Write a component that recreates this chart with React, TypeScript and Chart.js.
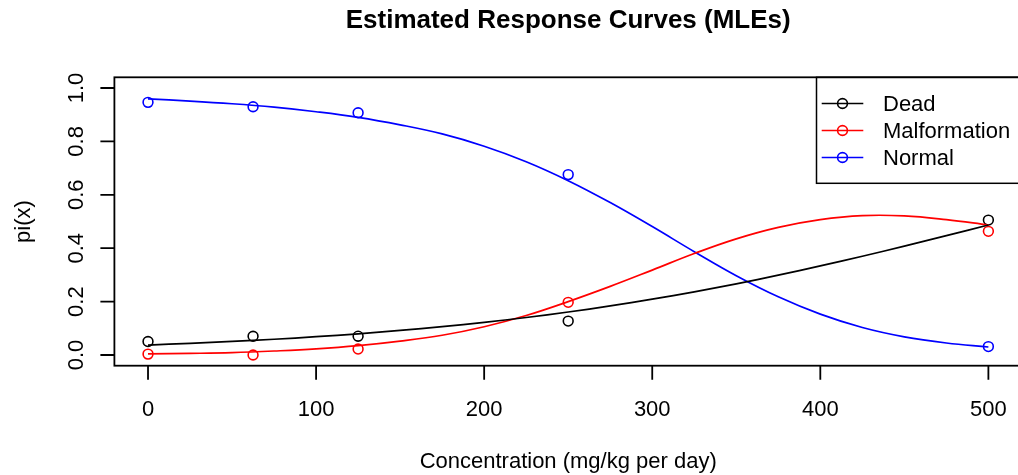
import { useEffect, useRef } from 'react';
import { Chart, registerables } from 'chart.js';

Chart.register(...registerables);

// Observed proportions
const doses = [0, 62.5, 125, 250, 500];
const obsDead = [0.0505, 0.0702, 0.0705, 0.1271, 0.5053];
const obsMalf = [0.0034, 0.0, 0.0224, 0.1973, 0.4632];
const obsNormal = [0.9461, 0.9298, 0.9071, 0.6756, 0.0316];

// Fitted curves
const curveX = [0, 25, 50, 75, 100, 125, 150, 175, 200, 225, 250, 275, 300, 325, 350, 375, 400, 425, 450, 475, 500];
const fitDead = [0.0374, 0.0436, 0.0508, 0.059, 0.0686, 0.0795, 0.092, 0.1062, 0.1224, 0.1406, 0.161, 0.1838, 0.209, 0.2366, 0.2667, 0.2991, 0.3336, 0.37, 0.4079, 0.447, 0.4868];
const fitMalf = [0.004, 0.006, 0.009, 0.015, 0.023, 0.035, 0.052, 0.074, 0.106, 0.148, 0.2, 0.257, 0.318, 0.38, 0.435, 0.478, 0.507, 0.522, 0.521, 0.507, 0.487];
const fitNormal = [0.959, 0.951, 0.941, 0.928, 0.911, 0.89, 0.862, 0.828, 0.782, 0.724, 0.653, 0.571, 0.481, 0.387, 0.297, 0.218, 0.153, 0.103, 0.068, 0.045, 0.03];

const xTicks = [0, 100, 200, 300, 400, 500];
const xTickLabels = ['0', '100', '200', '300', '400', '500'];
const yTicks = [0, 0.2, 0.4, 0.6, 0.8, 1.0];
const yTickLabels = ['0.0', '0.2', '0.4', '0.6', '0.8', '1.0'];

const seriesNames = ['Dead', 'Malformation', 'Normal'];
const seriesColors = ['#000000', '#FF0000', '#0000FF'];

const titleText = 'Estimated Response Curves (MLEs)';
const xTitle = 'Concentration (mg/kg per day)';
const yTitle = 'pi(x)';

const FONT = '"Liberation Sans", Arial, Helvetica, sans-serif';

export default function App() {
  const ref = useRef<HTMLCanvasElement | null>(null);

  useEffect(() => {
    document.body.style.margin = '0';
    const canvas = ref.current;
    if (!canvas) return;

    const fits = [fitDead, fitMalf, fitNormal];
    const obs = [obsDead, obsMalf, obsNormal];

    const datasets: any[] = [];
    fits.forEach((f, i) => {
      datasets.push({
        type: 'line',
        label: seriesNames[i] + ' fit',
        data: curveX.map((x, j) => ({ x, y: f[j] })),
        borderColor: seriesColors[i],
        borderWidth: 1.7,
        pointRadius: 0,
        tension: 0.4,
        fill: false,
      });
    });
    obs.forEach((o, i) => {
      datasets.push({
        type: 'scatter',
        label: seriesNames[i],
        data: doses.map((x, j) => ({ x, y: o[j] })),
        borderColor: seriesColors[i],
        backgroundColor: 'rgba(0,0,0,0)',
        borderWidth: 1.6,
        pointRadius: 4.9,
        pointStyle: 'circle',
        showLine: false,
      });
    });

    const decor = {
      id: 'rdecor',
      afterDraw(chart: any) {
        const ctx = chart.ctx as CanvasRenderingContext2D;
        const a = chart.chartArea;
        const xs = chart.scales.x;
        const ys = chart.scales.y;
        ctx.save();
        ctx.strokeStyle = '#000';
        ctx.fillStyle = '#000';
        ctx.lineWidth = 1.8;
        // box
        ctx.strokeRect(a.left, a.top, a.right - a.left, a.bottom - a.top);
        // ticks
        ctx.beginPath();
        xTicks.forEach((v) => {
          const px = xs.getPixelForValue(v);
          ctx.moveTo(px, a.bottom);
          ctx.lineTo(px, a.bottom + 14);
        });
        yTicks.forEach((v) => {
          const py = ys.getPixelForValue(v);
          ctx.moveTo(a.left, py);
          ctx.lineTo(a.left - 14, py);
        });
        ctx.stroke();
        // tick labels
        ctx.font = '22px ' + FONT;
        ctx.textAlign = 'center';
        ctx.textBaseline = 'alphabetic';
        xTicks.forEach((v, i) => {
          ctx.fillText(xTickLabels[i], xs.getPixelForValue(v), 415.7);
        });
        yTicks.forEach((v, i) => {
          ctx.save();
          ctx.translate(83, ys.getPixelForValue(v));
          ctx.rotate(-Math.PI / 2);
          ctx.fillText(yTickLabels[i], 0, 0);
          ctx.restore();
        });
        // axis titles
        const cx = (a.left + a.right) / 2;
        const cy = (a.top + a.bottom) / 2;
        ctx.fillText(xTitle, cx, 468.3);
        ctx.save();
        ctx.translate(30, cy);
        ctx.rotate(-Math.PI / 2);
        ctx.fillText(yTitle, 0, 0);
        ctx.restore();
        // main title
        ctx.font = 'bold 26px ' + FONT;
        ctx.fillText(titleText, cx, 27.8);
        // legend
        const lx = 816.5;
        const ly = a.top;
        const lb = 183.3;
        ctx.lineWidth = 1.5;
        ctx.strokeRect(lx, ly, a.right - lx, lb - ly);
        ctx.font = '22px ' + FONT;
        ctx.textAlign = 'left';
        const rowY = [103.5, 130.5, 157.5];
        seriesNames.forEach((name, i) => {
          const y = rowY[i];
          ctx.strokeStyle = seriesColors[i];
          ctx.lineWidth = 1.7;
          ctx.beginPath();
          ctx.moveTo(821.7, y);
          ctx.lineTo(863.3, y);
          ctx.stroke();
          ctx.lineWidth = 1.6;
          ctx.beginPath();
          ctx.arc(842.5, y, 4.9, 0, Math.PI * 2);
          ctx.stroke();
          ctx.fillStyle = '#000';
          ctx.fillText(name, 883, y + 7.8);
        });
        ctx.restore();
      },
    };

    const chart = new Chart(canvas, {
      type: 'scatter',
      data: { datasets },
      options: {
        animation: false,
        responsive: false,
        maintainAspectRatio: false,
        devicePixelRatio: 1,
        layout: { autoPadding: false, padding: { top: 77.3, left: 0, right: 0, bottom: 0 } },
        plugins: {
          legend: { display: false },
          title: { display: false },
          tooltip: { enabled: false },
        },
        scales: {
          x: {
            type: 'linear',
            min: -20,
            max: 520,
            afterBuildTicks: (s: any) => {
              s.ticks = xTicks.map((v) => ({ value: v }));
            },
            afterFit: (s: any) => {
              s.height = 109.3;
            },
            grid: { display: false },
            border: { display: false },
            ticks: { display: false },
          },
          y: {
            type: 'linear',
            min: -0.04,
            max: 1.04,
            afterBuildTicks: (s: any) => {
              s.ticks = yTicks.map((v) => ({ value: v }));
            },
            afterFit: (s: any) => {
              s.width = 114.4;
            },
            grid: { display: false },
            border: { display: false },
            ticks: { display: false },
          },
        },
      } as any,
      plugins: [decor],
    });

    return () => {
      chart.destroy();
    };
  }, []);

  return (
    <div style={{ width: 1018, height: 475, overflow: 'hidden', position: 'relative', background: '#fff' }}>
      <canvas ref={ref} width={1022} height={475} style={{ width: 1022, height: 475, display: 'block' }} />
    </div>
  );
}
